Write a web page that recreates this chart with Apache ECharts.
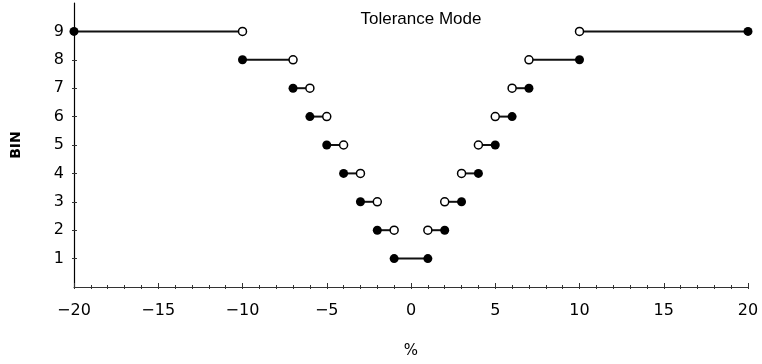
<!DOCTYPE html>
<html><head><meta charset="utf-8">
<script src="https://cdn.jsdelivr.net/npm/echarts@6/dist/echarts.min.js"></script>
<style>html,body{margin:0;padding:0;background:#fff}#c{width:762px;height:364px}</style>
</head><body><div id="c"></div>
<script>
// Segment data: bin, lower bound, upper bound, whether each end is closed (filled dot)
const bins        = [9,   8,  7,  6,  5,  4,  3,  2,  1,  2, 3, 4, 5, 6, 7, 8,  9];
const lowerBounds = [-20, -10, -7, -6, -5, -4, -3, -2, -1, 1, 2, 3, 4, 5, 6, 7, 10];
const upperBounds = [-10, -7, -6, -5, -4, -3, -2, -1, 1,  2, 3, 4, 5, 6, 7, 10, 20];
const lowerClosed = [1,   1,  1,  1,  1,  1,  1,  1,  1,  0, 0, 0, 0, 0, 0, 0,  0];
const upperClosed = [0,   0,  0,  0,  0,  0,  0,  0,  1,  1, 1, 1, 1, 1, 1, 1,  1];
const xTicks = [-20, -15, -10, -5, 0, 5, 10, 15, 20];
const yTicks = [1, 2, 3, 4, 5, 6, 7, 8, 9];
const titleText = 'Tolerance Mode';
const xName = '%';
const yName = 'BIN';

const segs = bins.map((b, i) => [lowerBounds[i], upperBounds[i], b]);
const filled = [], open = [];
bins.forEach((b, i) => {
  (lowerClosed[i] ? filled : open).push([lowerBounds[i], b]);
  (upperClosed[i] ? filled : open).push([upperBounds[i], b]);
});

const font = 'DejaVu Sans';
const chart = echarts.init(document.getElementById('c'), null, {renderer: 'canvas'});
chart.setOption({
  animation: false,
  backgroundColor: '#fff',
  title: {text: titleText, left: 416, top: 6, textAlign: 'center',
    textStyle: {fontFamily: 'Liberation Sans', fontSize: 17, fontWeight: 'normal', color: '#000'}},
  grid: {left: 74, right: 14, top: 3, bottom: 75},
  xAxis: [{
    type: 'value', min: -20, max: 20, interval: 5,
    name: xName, nameLocation: 'middle', nameGap: 57,
    nameTextStyle: {fontFamily: font, fontSize: 15, color: '#000'},
    axisLine: {show: true, onZero: false, lineStyle: {color: '#333', width: 1.2}},
    axisTick: {show: true, inside: false, length: 2, lineStyle: {color: '#333'}},
    minorTick: {show: true, splitNumber: 5, length: 2, lineStyle: {color: '#333'}},
    axisLabel: {margin: 16, fontFamily: font, fontSize: 16, color: '#000',
      customValues: xTicks,
      formatter: v => (v < 0 ? '\u2212' + Math.abs(v) : String(v))},
    splitLine: {show: false}
  }, {
    type: 'value', min: -20, max: 20, interval: 5, position: 'bottom',
    axisLine: {show: false, onZero: false},
    axisTick: {show: true, inside: true, length: 4, lineStyle: {color: '#333'}},
    minorTick: {show: true, splitNumber: 5, length: 2, lineStyle: {color: '#333'}},
    axisLabel: {show: false}, splitLine: {show: false}
  }],
  yAxis: [{
    type: 'value', min: 0, max: 10, interval: 1,
    name: yName, nameLocation: 'middle', nameGap: 51, nameRotate: 90,
    nameTextStyle: {fontFamily: font, fontSize: 14, fontWeight: 'bold', color: '#000'},
    axisLine: {show: true, onZero: false, lineStyle: {color: '#000', width: 1.2}},
    axisTick: {show: true, inside: true, length: 3, lineStyle: {color: '#333'},
      customValues: yTicks},
    axisLabel: {margin: 10, fontFamily: font, fontSize: 16, color: '#000',
      customValues: yTicks},
    splitLine: {show: false}
  }, {
    type: 'value', min: 0, max: 10, interval: 1, position: 'left',
    axisLine: {show: false, onZero: false},
    axisTick: {show: true, inside: false, length: 2, lineStyle: {color: '#333'},
      customValues: yTicks},
    axisLabel: {show: false}, splitLine: {show: false}
  }],
  series: [{
    type: 'custom', clip: false, z: 2,
    data: segs,
    renderItem: (params, api) => {
      const p1 = api.coord([api.value(0), api.value(2)]);
      const p2 = api.coord([api.value(1), api.value(2)]);
      return {type: 'line', shape: {x1: p1[0], y1: p1[1], x2: p2[0], y2: p2[1]},
        style: {stroke: '#111', lineWidth: 2}};
    }
  }, {
    type: 'scatter', clip: false, z: 3, symbol: 'circle', symbolSize: 9,
    itemStyle: {color: '#000', opacity: 1}, data: filled
  }, {
    type: 'scatter', clip: false, z: 3, symbol: 'circle', symbolSize: 8,
    itemStyle: {color: '#fff', borderColor: '#000', borderWidth: 1.5, opacity: 1}, data: open
  }]
});
</script></body></html>
